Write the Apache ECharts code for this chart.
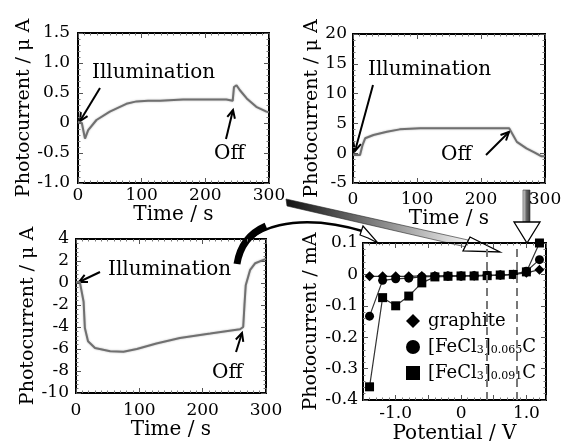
<!DOCTYPE html>
<html>
<head>
<meta charset="utf-8">
<script src="https://cdn.jsdelivr.net/npm/echarts@6/dist/echarts.min.js"></script>
<style>
  html, body { margin: 0; padding: 0; background: #fff; }
  #chart { width: 571px; height: 445px; }
</style>
</head>
<body>
<div id="chart"></div>
<script>
// panel (a): graphite electrode, time / s vs photocurrent / uA
var timeA = [0, 6, 11, 16, 29, 50, 76, 92, 110, 129, 165, 233, 243, 245, 249, 254, 265, 280, 296, 300];
var currA = [0.02, 0.0, -0.26, -0.12, 0.05, 0.19, 0.32, 0.36, 0.37, 0.37, 0.39, 0.39, 0.37, 0.6, 0.63, 0.55, 0.41, 0.27, 0.19, 0.18];
// panel (b)
var timeB = [0, 11, 15, 19, 32, 53, 73, 105, 244, 245, 256, 271, 284, 294, 300];
var currB = [-0.3, -0.3, 1.4, 2.5, 3.05, 3.6, 4.0, 4.2, 4.2, 3.9, 1.9, 0.8, 0.1, -0.5, -0.5];
// panel (c)
var timeC = [0, 6, 9, 12, 14, 19, 30, 54, 75, 96, 127, 164, 212, 259, 264, 266, 268, 275, 283, 296, 300];
var currC = [0.1, 0.1, 0, -1.7, -4.1, -5.3, -5.9, -6.2, -6.25, -6.0, -5.5, -5.0, -4.6, -4.2, -4.0, -2.0, -0.2, 1.2, 1.8, 2.1, 2.2];
// panel (d): potential / V vs photocurrent / mA
var potential = [-1.4, -1.2, -1.0, -0.8, -0.6, -0.4, -0.2, 0, 0.2, 0.4, 0.6, 0.8, 1.0, 1.2];
var graphite = [-0.006, -0.006, -0.006, -0.006, -0.005, -0.005, -0.005, -0.005, -0.004, -0.003, -0.002, 0.0, 0.005, 0.015];
var fecl065 = [-0.133, -0.019, -0.014, -0.012, -0.008, -0.006, -0.005, -0.005, -0.004, -0.003, -0.002, 0.0, 0.01, 0.047];
var fecl091 = [-0.358, -0.074, -0.1, -0.069, -0.027, -0.008, -0.006, -0.005, -0.005, -0.004, -0.002, 0.0, 0.008, 0.1];
var dashedAt = [0.4, 0.85];

var FONT = 'DejaVu Serif';

function pairs(xs, ys) {
  return xs.map(function (x, i) { return [x, ys[i]]; });
}
function fmt(v) {
  return v === 0 ? '0' : v.toFixed(1);
}

var myChart = echarts.init(document.getElementById('chart'));

var grids = [
  { left: 78, top: 33, width: 191, height: 150 },
  { left: 353, top: 34, width: 192, height: 149 },
  { left: 76, top: 239, width: 190, height: 154 },
  { left: 363, top: 243, width: 183, height: 160 }
];
grids.forEach(function (g) { g.show = true; g.borderColor = '#000'; g.borderWidth = 2; });

var xAxes = [], yAxes = [];
function addAxes(gi, xo, yo, xm, ym) {
  var tick = { show: true, inside: true, length: 5, lineStyle: { color: '#555' } };
  var minor = { show: true, length: 2.5, lineStyle: { color: '#777' } };
  var base = {
    gridIndex: gi,
    splitLine: { show: false },
    axisLine: { show: true, onZero: false, lineStyle: { color: '#000', width: 2 } },
    axisTick: tick,
    minorTick: minor
  };
  var lab = { color: '#000', fontFamily: FONT, fontSize: 17 };
  xAxes.push(Object.assign({}, base, xo, { position: 'bottom', axisLabel: Object.assign({}, lab, { margin: xm }, xo.axisLabel || {}) }));
  xAxes.push(Object.assign({}, base, xo, { name: '', position: 'top', axisLabel: { show: false } }));
  yAxes.push(Object.assign({}, base, yo, { position: 'left', axisLabel: Object.assign({}, lab, { margin: ym }, yo.axisLabel || {}) }));
  yAxes.push(Object.assign({}, base, yo, { name: '', position: 'right', axisLabel: { show: false } }));
}

var nameStyle = { color: '#000', fontFamily: FONT, fontSize: 19, fontWeight: 'normal' };
function timeAxis(gap) {
  return {
    type: 'value', min: 0, max: 300, interval: 100,
    minorTick: { show: true, splitNumber: 10, length: 2.5, lineStyle: { color: '#777' } },
    name: 'Time / s', nameLocation: 'middle', nameGap: gap,
    nameTextStyle: Object.assign({}, nameStyle, { fontSize: 20 })
  };
}
function currentAxis(min, max, step, unit, gap) {
  return {
    type: 'value', min: min, max: max, interval: step,
    axisLabel: { formatter: step < 1 ? fmt : null },
    name: 'Photocurrent / ' + unit, nameLocation: 'middle', nameGap: gap, nameTextStyle: nameStyle
  };
}

addAxes(0, timeAxis(20), currentAxis(-1.0, 1.5, 0.5, '\u03bc A', 42), 4, 8);
addAxes(1, timeAxis(21), currentAxis(-5, 20, 5, '\u03bc A', 27), 8, 6);
addAxes(2, timeAxis(24), currentAxis(-10, 4, 2, '\u03bc A', 33), 9, 7);
addAxes(3, {
  type: 'value', min: -1.5, max: 1.3, interval: 0.5,
  axisLabel: { formatter: function (v) { return (v === -1 || v === 0 || v === 1) ? fmt(v) : ''; } },
  name: 'Potential / V', nameLocation: 'middle', nameGap: 24,
  nameTextStyle: Object.assign({}, nameStyle, { fontSize: 20 })
}, currentAxis(-0.4, 0.1, 0.1, 'mA', 42), 5, 5);

function traceSeries(axisIdx, xs, ys) {
  return {
    type: 'line', xAxisIndex: axisIdx, yAxisIndex: axisIdx,
    data: pairs(xs, ys), showSymbol: false, symbol: 'none',
    lineStyle: { color: '#707070', width: 2, shadowColor: 'rgba(0,0,0,0.3)', shadowBlur: 2 },
    silent: true
  };
}

function ivSeries(name, ys, sym, size) {
  return {
    name: name, type: 'line', xAxisIndex: 6, yAxisIndex: 6,
    data: pairs(potential, ys), symbol: sym, symbolSize: size,
    itemStyle: { color: '#000' },
    lineStyle: { color: '#333', width: 1.2 }
  };
}

var legendText = {
  graphite: 'graphite',
  fe065: '[FeCl{s|3}]{s|0.065}C',
  fe091: '[FeCl{s|3}]{s|0.091}C'
};

var s4 = ivSeries('graphite', graphite, 'diamond', 10);
s4.markLine = {
  silent: true, symbol: 'none', label: { show: false },
  lineStyle: { color: '#777', type: [8, 5], width: 2 },
  data: dashedAt.map(function (v) { return { xAxis: v }; })
};

function arrow(x1, y1, x2, y2) {
  var a = Math.atan2(y2 - y1, x2 - x1), h = 9, w = 0.45;
  return {
    type: 'group', silent: true, children: [
      { type: 'line', shape: { x1: x1, y1: y1, x2: x2, y2: y2 }, style: { stroke: '#000', lineWidth: 2 } },
      { type: 'polyline', shape: { points: [
        [x2 - h * Math.cos(a - w), y2 - h * Math.sin(a - w)], [x2, y2],
        [x2 - h * Math.cos(a + w), y2 - h * Math.sin(a + w)]] },
        style: { stroke: '#000', lineWidth: 2, fill: null } }
    ]
  };
}
function label(text, x, y) {
  return { type: 'text', x: x, y: y, silent: true, style: { text: text, fill: '#000', font: '20px "' + FONT + '"', textVerticalAlign: 'middle' } };
}

var option = {
  backgroundColor: '#fff',
  animation: false,
  grid: grids,
  xAxis: xAxes,
  yAxis: yAxes,
  legend: {
    orient: 'vertical', left: 401, top: 307, itemGap: 8,
    itemWidth: 14, itemHeight: 14,
    data: [
      { name: 'graphite', icon: 'diamond' },
      { name: 'fe065', icon: 'circle' },
      { name: 'fe091', icon: 'rect' }
    ],
    formatter: function (n) { return legendText[n]; },
    textStyle: {
      color: '#000', fontFamily: FONT, fontSize: 18, padding: [0, 0, 0, 3],
      rich: { s: { fontFamily: FONT, fontSize: 11, verticalAlign: 'bottom', padding: [5, 0, 0, 0] } }
    }
  },
  series: [
    traceSeries(0, timeA, currA),
    traceSeries(2, timeB, currB),
    traceSeries(4, timeC, currC),
    s4,
    ivSeries('fe065', fecl065, 'circle', 9),
    ivSeries('fe091', fecl091, 'rect', 9)
  ],
  graphic: [
    label('Illumination', 92, 73),
    arrow(100, 88, 80, 121),
    label('Off', 214, 154),
    arrow(226, 139, 233, 110),
    label('Illumination', 368, 70),
    arrow(373, 85, 355, 151),
    label('Off', 441, 155),
    arrow(486, 155, 509, 132),
    label('Illumination', 108, 270),
    arrow(100, 272, 79, 282),
    label('Off', 212, 373),
    arrow(236, 352, 242, 333),
    // gradient wedge arrow from top-left panel to the I-V panel
    { type: 'polygon', silent: true,
      shape: { points: [[286, 199], [468, 240], [466, 247], [287, 206]] },
      style: { fill: new echarts.graphic.LinearGradient(0, 0, 1, 0, [
        { offset: 0, color: '#111' }, { offset: 1, color: '#f2f2f2' }]), stroke: '#222', lineWidth: 0.6 } },
    { type: 'polygon', silent: true,
      shape: { points: [[470, 237], [500, 252], [463, 251]] },
      style: { fill: '#fff', stroke: '#000', lineWidth: 1.3 } },
    // vertical arrow from top-right panel
    { type: 'rect', silent: true, shape: { x: 523, y: 190, width: 7, height: 32 },
      style: { fill: new echarts.graphic.LinearGradient(0, 0, 1, 0, [
        { offset: 0, color: '#eee' }, { offset: 0.5, color: '#666' }, { offset: 1, color: '#333' }]), stroke: '#333', lineWidth: 0.6 } },
    { type: 'polygon', silent: true,
      shape: { points: [[514, 222], [540, 222], [527, 243]] },
      style: { fill: '#fff', stroke: '#000', lineWidth: 1.3 } },
    // curved arrow from bottom-left panel
    { type: 'bezierCurve', silent: true,
      shape: { x1: 237, y1: 262, cpx1: 244, cpy1: 224, cpx2: 300, cpy2: 212, x2: 366, y2: 232 },
      style: { stroke: '#000', lineWidth: 2.5, fill: null } },
    { type: 'bezierCurve', silent: true,
      shape: { x1: 237, y1: 264, cpx1: 240, cpy1: 245, cpx2: 250, cpy2: 233, x2: 266, y2: 226 },
      style: { stroke: '#000', lineWidth: 7, fill: null } },
    { type: 'polygon', silent: true,
      shape: { points: [[363, 226], [378, 243], [368, 238], [360, 235]] },
      style: { fill: '#fff', stroke: '#000', lineWidth: 1.2 } }
  ]
};
myChart.setOption(option);
</script>
</body>
</html>
